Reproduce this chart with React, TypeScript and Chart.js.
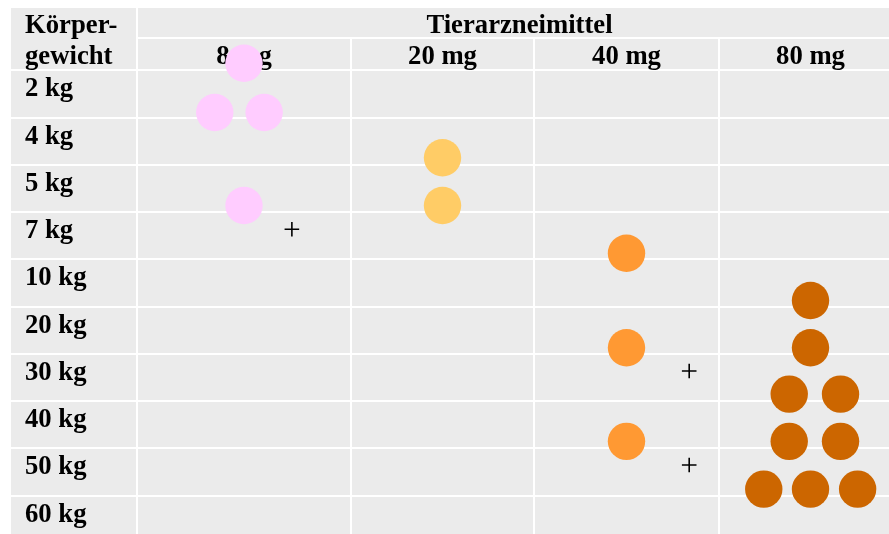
import React, { useEffect, useRef } from 'react';
import { Chart, registerables } from 'chart.js';

Chart.register(...registerables);

// ---------- data ----------
const headerLeft = ['Körper-', 'gewicht'];
const headerTop = 'Tierarzneimittel';
const doseLabels = ['8 mg', '20 mg', '40 mg', '80 mg'];
const weightLabels = ['2 kg', '4 kg', '5 kg', '7 kg', '10 kg', '20 kg', '30 kg', '40 kg', '50 kg', '60 kg'];

// tablets: horizontal slot (in tablet widths, relative to the dose column centre)
// and vertical position (in weight rows, 0 = top of the "2 kg" row)
const tablets8Slot = [0, -0.77, 0.53, 0];
const tablets8Row = [-0.15, 0.89, 0.89, 2.86];
const tablets20Slot = [0, 0];
const tablets20Row = [1.85, 2.86];
const tablets40Slot = [0, 0, 0];
const tablets40Row = [3.87, 5.87, 7.85];
const tablets80Slot = [0, 0, -0.56, 0.79, -0.56, 0.79, -1.23, 0, 1.24];
const tablets80Row = [4.87, 5.87, 6.85, 6.85, 7.85, 7.85, 8.86, 8.86, 8.86];

// "+" markers
const plusDose = [0, 2, 2];
const plusSlot = [1.26, 1.65, 1.65];
const plusRow = [3.36, 6.36, 8.35];

const doseColors = ['#ffccff', '#ffcc66', '#ff9933', '#cc6600'];

// ---------- layout ----------
const COL_EDGES = [0, 126, 340, 523, 708, 891]; // x-scale units
const X_MAX = 878;
const Y_MIN = -1.32;
const Y_MAX = 9.81;
const HEADER_SPLIT = -0.68;
const TABLET = 38;
const FONT = 'bold 26.7px "Liberation Serif", "Times New Roman", serif';
const CELL_BG = '#ebebeb';

const colCenter = (i: number) => (COL_EDGES[i + 1] + COL_EDGES[i + 2]) / 2;
const pts = (dose: number, slots: number[], rows: number[]) =>
  slots.map((s, i) => ({ x: colCenter(dose) + s * TABLET, y: rows[i] }));

const tablePlugin = {
  id: 'tablePlugin',
  beforeDatasetsDraw(chart: any) {
    const { ctx, chartArea: a, scales } = chart;
    const x = scales.x;
    const y = scales.y;
    ctx.save();
    ctx.fillStyle = CELL_BG;
    ctx.fillRect(a.left, a.top, a.right - a.left, a.bottom - a.top);

    ctx.strokeStyle = '#ffffff';
    ctx.lineWidth = 2;
    const hLine = (v: number, x0: number) => {
      const py = Math.round(y.getPixelForValue(v));
      ctx.beginPath();
      ctx.moveTo(x.getPixelForValue(x0), py);
      ctx.lineTo(a.right, py);
      ctx.stroke();
    };
    const vLine = (u: number, y0: number) => {
      const px = Math.round(x.getPixelForValue(u));
      ctx.beginPath();
      ctx.moveTo(px, y.getPixelForValue(y0));
      ctx.lineTo(px, a.bottom);
      ctx.stroke();
    };
    for (let k = 0; k < weightLabels.length; k++) hLine(k, COL_EDGES[0]);
    hLine(HEADER_SPLIT, COL_EDGES[1]);
    vLine(COL_EDGES[1], Y_MIN);
    for (let i = 2; i < COL_EDGES.length - 1; i++) vLine(COL_EDGES[i], HEADER_SPLIT);

    // texts
    ctx.fillStyle = '#000000';
    ctx.font = FONT;
    ctx.textBaseline = 'alphabetic';
    const top = y.getPixelForValue(Y_MIN);
    const split = y.getPixelForValue(HEADER_SPLIT);
    const leftX = x.getPixelForValue(COL_EDGES[0]) + 14;
    ctx.textAlign = 'left';
    ctx.fillText(headerLeft[0], leftX, top + 25);
    ctx.fillText(headerLeft[1], leftX, top + 55.5);
    weightLabels.forEach((lab, k) => {
      ctx.fillText(lab, leftX, y.getPixelForValue(k) + 26);
    });
    ctx.textAlign = 'center';
    const tx = (x.getPixelForValue(COL_EDGES[1]) + x.getPixelForValue(COL_EDGES[COL_EDGES.length - 1])) / 2;
    ctx.fillText(headerTop, tx, top + 24.5);
    doseLabels.forEach((lab, i) => {
      ctx.fillText(lab, x.getPixelForValue(colCenter(i)), split + 25.5);
    });
    ctx.restore();
  },
};

export default function App() {
  const ref = useRef<HTMLCanvasElement>(null);

  useEffect(() => {
    if (!ref.current) return;
    const tabletSets = [
      pts(0, tablets8Slot, tablets8Row),
      pts(1, tablets20Slot, tablets20Row),
      pts(2, tablets40Slot, tablets40Row),
      pts(3, tablets80Slot, tablets80Row),
    ];
    const datasets: any[] = tabletSets.map((data, i) => ({
      label: doseLabels[i],
      data,
      backgroundColor: doseColors[i],
      borderWidth: 0,
      pointRadius: 18.7,
      pointHoverRadius: 18.7,
      clip: false,
    }));
    datasets.push({
      label: '+',
      data: plusSlot.map((s, i) => ({ x: colCenter(plusDose[i]) + s * TABLET, y: plusRow[i] })),
      pointStyle: 'cross',
      pointRadius: 7.3,
      pointHoverRadius: 7.3,
      borderColor: '#000000',
      borderWidth: 1.6,
      backgroundColor: '#000000',
      clip: false,
    });

    const chart = new Chart(ref.current, {
      type: 'scatter',
      data: { datasets },
      options: {
        animation: false,
        responsive: false,
        events: [],
        layout: { autoPadding: false, padding: { left: 11, top: 8, right: 0, bottom: 0 } },
        plugins: { legend: { display: false }, tooltip: { enabled: false } },
        scales: {
          x: { type: 'linear', min: 0, max: X_MAX, display: false },
          y: { type: 'linear', min: Y_MIN, max: Y_MAX, reverse: true, display: false },
        },
      },
      plugins: [tablePlugin],
    });
    return () => chart.destroy();
  }, []);

  return (
    <div style={{ position: 'fixed', left: 0, top: 0, width: 889, height: 534, background: '#fff' }}>
      <canvas ref={ref} width={889} height={534} style={{ display: 'block' }} />
    </div>
  );
}
